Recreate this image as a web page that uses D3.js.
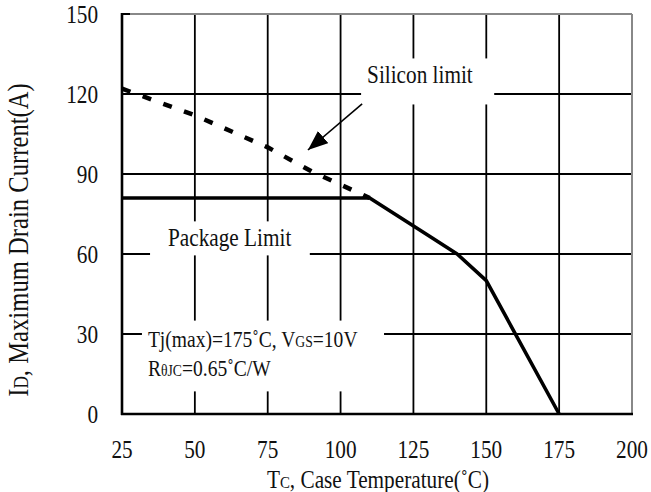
<!DOCTYPE html>
<html>
<head>
<meta charset="utf-8">
<script src="https://cdn.jsdelivr.net/npm/d3@7"></script>
<style>
  html, body { margin: 0; padding: 0; background: #fff; }
  svg { display: block; font-family: "Liberation Serif", "Times New Roman", serif; }
</style>
</head>
<body>
<div id="chart"></div>
<script>
// Tc (°C) ticks and ID (A) ticks
const xTicks = [25, 50, 75, 100, 125, 150, 175, 200];
const yTicks = [0, 30, 60, 90, 120, 150];

// package limit / derating curve (solid)
const packageTc = [25, 110, 130, 140, 150, 175];
const packageId = [81, 81, 67, 60, 50, 0];

// silicon limit (dashed)
const siliconTc = [25, 50, 75, 90, 110];
const siliconId = [122, 112, 100, 91, 81];

// arrow from "Silicon limit" label to the dashed line
const arrowTc = [107.4, 88.8];
const arrowId = [116.3, 99];

const W = 651, H = 492;
const margin = { top: 14, right: 19, bottom: 78, left: 122 };
const SX = 0.85; // narrow the serif glyphs a bit, the original font is condensed

const svg = d3.select('#chart').append('svg')
  .attr('width', W).attr('height', H);

const x = d3.scaleLinear().domain([25, 200]).range([margin.left, W - margin.right]);
const y = d3.scaleLinear().domain([0, 150]).range([H - margin.bottom, margin.top]);

// text helper: parts = [[string, isSub], ...]
function label(parent, px, py, parts, size, anchor, rotate) {
  const g = parent.append('g')
    .attr('transform', `translate(${px},${py})${rotate ? ' rotate(-90)' : ''} scale(${SX},1)`);
  const t = g.append('text')
    .attr('font-size', size)
    .attr('fill', '#111')
    .attr('text-anchor', anchor || 'start');
  parts.forEach(([s, sub]) => {
    t.append('tspan').attr('font-size', sub ? size * 0.7 : null).text(s);
  });
  return g;
}

// grid
const grid = svg.append('g');
grid.selectAll('.vgrid')
  .data(xTicks.slice(1, -1))
  .join('line')
  .attr('x1', d => x(d)).attr('x2', d => x(d))
  .attr('y1', y(150)).attr('y2', y(0))
  .attr('stroke', '#000').attr('stroke-width', 1.8);
grid.selectAll('.hgrid')
  .data(yTicks.slice(1, -1))
  .join('line')
  .attr('x1', x(25)).attr('x2', x(200))
  .attr('y1', d => y(d)).attr('y2', d => y(d))
  .attr('stroke', '#000').attr('stroke-width', 1.8);

// frame: grey top/right, black left/bottom
grid.append('line')
  .attr('x1', x(25)).attr('x2', x(200)).attr('y1', y(150)).attr('y2', y(150))
  .attr('stroke', '#888').attr('stroke-width', 2);
grid.append('line')
  .attr('x1', x(200)).attr('x2', x(200)).attr('y1', y(150)).attr('y2', y(0))
  .attr('stroke', '#888').attr('stroke-width', 2);
grid.append('line')
  .attr('x1', x(25)).attr('x2', x(25) + 8).attr('y1', y(150)).attr('y2', y(150))
  .attr('stroke', '#000').attr('stroke-width', 2);
grid.append('line')
  .attr('x1', x(25)).attr('x2', x(25)).attr('y1', y(150) - 1).attr('y2', y(0) + 1)
  .attr('stroke', '#000').attr('stroke-width', 2.6);
grid.append('line')
  .attr('x1', x(25) - 1).attr('x2', x(200) + 1).attr('y1', y(0)).attr('y2', y(0))
  .attr('stroke', '#000').attr('stroke-width', 2.6);

// label boxes (white, hide the grid behind)
const boxes = svg.append('g');
const notes = svg.append('g');

function boxed(g, pad) {
  const b = g.node().getBBox();
  const m = g.node().getCTM();
  // bbox in local coords -> page coords
  const x0 = m.a * b.x + m.c * b.y + m.e, y0 = m.b * b.x + m.d * b.y + m.f;
  const x1 = m.a * (b.x + b.width) + m.c * (b.y + b.height) + m.e;
  const y1 = m.b * (b.x + b.width) + m.d * (b.y + b.height) + m.f;
  boxes.append('rect')
    .attr('x', Math.min(x0, x1) - pad[3])
    .attr('y', Math.min(y0, y1) - pad[0])
    .attr('width', Math.abs(x1 - x0) + pad[1] + pad[3])
    .attr('height', Math.abs(y1 - y0) + pad[0] + pad[2])
    .attr('fill', '#fff');
}

const sil = label(notes, x(109.1), y(124.1), [['Silicon limit']], 25);
boxed(sil, [2, 21, 16, 6]);

const pkg = label(notes, x(40.8), y(63), [['Package Limit']], 25);
boxed(pkg, [2, 18, 4, 18]);

const cond = notes.append('g');
label(cond, x(33.9), y(25.1),
  [['Tj(max)=175˚C, V'], ['GS', true], ['=10V']], 23);
label(cond, x(33.9), y(14.25),
  [['R'], ['θJC', true], ['=0.65˚C/W']], 23);
boxed(cond, [6, 26, 10, 6]);

// curves
const line = d3.line().x(d => x(d[0])).y(d => y(d[1]));

svg.append('path')
  .datum(d3.zip(siliconTc, siliconId))
  .attr('d', line)
  .attr('fill', 'none')
  .attr('stroke', '#000')
  .attr('stroke-width', 4.5)
  .attr('stroke-dasharray', '9,13');

svg.append('path')
  .datum(d3.zip(packageTc, packageId))
  .attr('d', line)
  .attr('fill', 'none')
  .attr('stroke', '#000')
  .attr('stroke-width', 3.6)
  .attr('stroke-linejoin', 'round');

// arrow
svg.append('defs').append('marker')
  .attr('id', 'head')
  .attr('markerUnits', 'userSpaceOnUse')
  .attr('viewBox', '0 0 20 16')
  .attr('refX', 20).attr('refY', 8)
  .attr('markerWidth', 20).attr('markerHeight', 16)
  .attr('orient', 'auto')
  .append('path')
  .attr('d', 'M0,0 L20,8 L0,16 Z')
  .attr('fill', '#000');

svg.append('path')
  .datum(d3.zip(arrowTc, arrowId))
  .attr('d', line)
  .attr('stroke', '#000')
  .attr('stroke-width', 1.6)
  .attr('marker-end', 'url(#head)');

// tick labels
const ticks = svg.append('g');
xTicks.forEach(t => label(ticks, x(t), 458, [[String(t)]], 25, 'middle'));
yTicks.forEach(t => label(ticks, 98, y(t) + 9, [[String(t)]], 25, 'end'));

// axis titles
label(svg, 378, 488,
  [['T'], ['C', true], [', Case Temperature(˚C)']], 25, 'middle');
label(svg, 28, 240,
  [['I'], ['D', true], [', Maximum Drain Current(A)']], 29, 'middle', true);
</script>
</body>
</html>
